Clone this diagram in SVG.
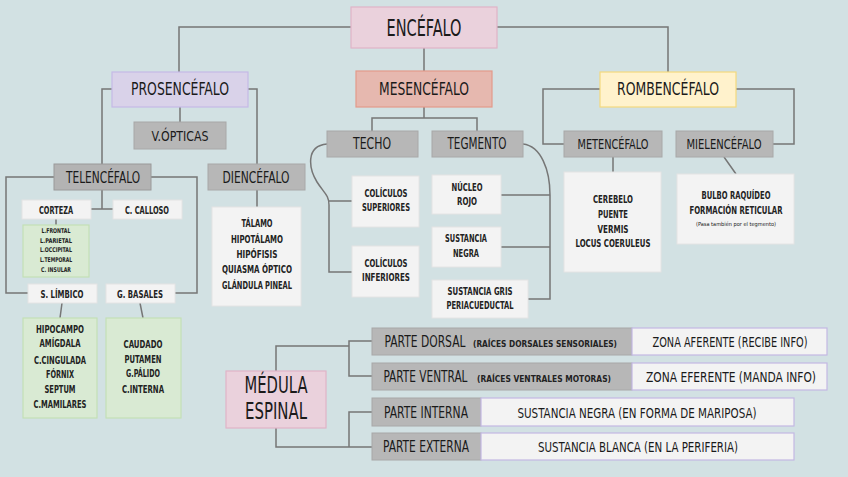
<svg xmlns="http://www.w3.org/2000/svg" width="848" height="477" viewBox="0 0 848 477">
<style>
text{font-family:"DejaVu Sans Condensed","DejaVu Sans","Liberation Sans Narrow",sans-serif;font-stretch:condensed;font-weight:bold;fill:#222;text-anchor:middle}
.c{fill:none;stroke:#767676;stroke-width:1.5}
.g{fill:#b7b7b7;stroke:#a8a8a8;stroke-width:1}
.w{fill:#f3f3f3;stroke:#e4e4e4;stroke-width:1}
.gr{fill:#d9ead3;stroke:#c4dfb6;stroke-width:1.2}
.z{fill:#f3f3f3;stroke:#c3b8e3;stroke-width:1.2}
.pk{fill:#ead1dc;stroke:#dfb3c7;stroke-width:1.2}
.n{font-weight:normal;fill:#1a1a1a}
</style>
<rect width="848" height="477" fill="#d2e1e3"/>
<g id="connectors">
<path class="c" d="M351,27H179V72M497,27H668V72M424,48V71M112,89H102V164M248,89H257V164M180,107V122M424,107V118M372,131V118H477V131"/>
<path class="c" d="M600,89H543V144H564M736,89H794V144H773M613,157V172M724,157L736,174"/>
<path class="c" d="M54,177H6V293H28M151,177H197V293H175M102,190V209M91,209H113M56,219V225M62,303L60,318M140,303L143,318M257,190V207"/>
<path class="c" d="M327,144C305,146 309,169 317,182C324,193 329,195 329,205V272H352M329,201H352"/>
<path class="c" d="M523,144C541,146 550,170 550,195V299H528M501,195H550M501,247H550"/>
<path class="c" d="M276,371V346H349M372,341H349V376H372M276,428V447H372M349,447V412H372"/>
</g>
<g id="encefalo"><rect class="pk" x="351" y="7" width="146" height="41"/><text class="n" x="424" y="36" font-size="23" textLength="75" lengthAdjust="spacingAndGlyphs">ENCÉFALO</text></g>
<g id="prosencefalo"><rect x="112" y="72" width="136" height="35" fill="#d9d2e9" stroke="#c5b9e6" stroke-width="1.2"/><text class="n" x="180" y="95" font-size="17" textLength="98" lengthAdjust="spacingAndGlyphs">PROSENCÉFALO</text></g>
<g id="mesencefalo"><rect x="356" y="71" width="136" height="36" fill="#e6b8af" stroke="#e39a8a" stroke-width="1.2"/><text class="n" x="424" y="95" font-size="17" textLength="90" lengthAdjust="spacingAndGlyphs">MESENCÉFALO</text></g>
<g id="rombencefalo"><rect x="600" y="72" width="136" height="35" fill="#fff2cc" stroke="#f3d97e" stroke-width="1.2"/><text class="n" x="668" y="95" font-size="17" textLength="102" lengthAdjust="spacingAndGlyphs">ROMBENCÉFALO</text></g>
<g id="vopticas"><rect class="g" x="134" y="122" width="92" height="27"/><text class="n" x="180" y="140.5" font-size="14" textLength="57" lengthAdjust="spacingAndGlyphs">V.ÓPTICAS</text></g>
<g id="techo"><rect class="g" x="327" y="131" width="91" height="26"/><text class="n" x="372" y="149" font-size="15" textLength="38" lengthAdjust="spacingAndGlyphs">TECHO</text></g>
<g id="tegmento"><rect class="g" x="432" y="131" width="91" height="26"/><text class="n" x="477" y="149" font-size="15" textLength="59" lengthAdjust="spacingAndGlyphs">TEGMENTO</text></g>
<g id="metencefalo"><rect class="g" x="564" y="131" width="98" height="26"/><text class="n" x="613" y="149" font-size="14" textLength="71" lengthAdjust="spacingAndGlyphs">METENCÉFALO</text></g>
<g id="mielencefalo"><rect class="g" x="676" y="131" width="97" height="26"/><text class="n" x="724" y="149" font-size="14" textLength="75" lengthAdjust="spacingAndGlyphs">MIELENCÉFALO</text></g>
<g id="telencefalo"><rect x="54" y="164" width="97" height="26" fill="#b3b3b3" stroke="#9a9a9a" stroke-width="1"/><text class="n" x="103" y="182.5" font-size="15" textLength="74" lengthAdjust="spacingAndGlyphs">TELENCÉFALO</text></g>
<g id="diencefalo"><rect class="g" x="208" y="164" width="97" height="26"/><text class="n" x="256" y="182.5" font-size="15" textLength="67" lengthAdjust="spacingAndGlyphs">DIENCÉFALO</text></g>
<g id="corteza"><rect class="w" x="22" y="200" width="69" height="19"/><text x="56" y="213.5" font-size="11" textLength="34" lengthAdjust="spacingAndGlyphs">CORTEZA</text></g>
<g id="ccalloso"><rect class="w" x="113" y="200" width="69" height="19"/><text x="147" y="213.5" font-size="11" textLength="44" lengthAdjust="spacingAndGlyphs">C. CALLOSO</text></g>
<g id="lobulos"><rect class="gr" x="23" y="225" width="66" height="52"/>
<text x="56" y="233.3" font-size="6.5" textLength="29" lengthAdjust="spacingAndGlyphs">L.FRONTAL</text>
<text x="56" y="243" font-size="6.5" textLength="32" lengthAdjust="spacingAndGlyphs">L.PARIETAL</text>
<text x="56" y="252.3" font-size="6.5" textLength="32" lengthAdjust="spacingAndGlyphs">L.OCCIPITAL</text>
<text x="56" y="262.3" font-size="6.5" textLength="32" lengthAdjust="spacingAndGlyphs">L.TEMPORAL</text>
<text x="56" y="272.3" font-size="6.5" textLength="30" lengthAdjust="spacingAndGlyphs">C. INSULAR</text></g>
<g id="slimbico"><rect class="w" x="28" y="284" width="69" height="19"/><text x="62" y="297.5" font-size="11" textLength="43" lengthAdjust="spacingAndGlyphs">S. LÍMBICO</text></g>
<g id="gbasales"><rect class="w" x="106" y="284" width="69" height="19"/><text x="140" y="297.5" font-size="11" textLength="46" lengthAdjust="spacingAndGlyphs">G. BASALES</text></g>
<g id="limbico-list"><rect class="gr" x="23" y="318" width="74" height="100"/>
<text x="60" y="333" font-size="11" textLength="48" lengthAdjust="spacingAndGlyphs">HIPOCAMPO</text>
<text x="60" y="347" font-size="11" textLength="41" lengthAdjust="spacingAndGlyphs">AMÍGDALA</text>
<text x="60" y="364" font-size="11" textLength="52" lengthAdjust="spacingAndGlyphs">C.CINGULADA</text>
<text x="60" y="378" font-size="11" textLength="28" lengthAdjust="spacingAndGlyphs">FÓRNIX</text>
<text x="60" y="393" font-size="11" textLength="31" lengthAdjust="spacingAndGlyphs">SEPTUM</text>
<text x="60" y="408" font-size="11" textLength="53" lengthAdjust="spacingAndGlyphs">C.MAMILARES</text></g>
<g id="basales-list"><rect class="gr" x="106" y="318" width="75" height="100"/>
<text x="143" y="348" font-size="11" textLength="39" lengthAdjust="spacingAndGlyphs">CAUDADO</text>
<text x="143" y="363" font-size="11" textLength="37" lengthAdjust="spacingAndGlyphs">PUTAMEN</text>
<text x="143" y="377" font-size="11" textLength="34" lengthAdjust="spacingAndGlyphs">G.PÁLIDO</text>
<text x="143" y="393" font-size="11" textLength="42" lengthAdjust="spacingAndGlyphs">C.INTERNA</text></g>
<g id="diencefalo-list"><rect class="w" x="212" y="207" width="89" height="99"/>
<text x="257" y="227" font-size="11" textLength="31" lengthAdjust="spacingAndGlyphs">TÁLAMO</text>
<text x="257" y="243" font-size="11" textLength="52" lengthAdjust="spacingAndGlyphs">HIPOTÁLAMO</text>
<text x="257" y="258" font-size="11" textLength="41" lengthAdjust="spacingAndGlyphs">HIPÓFISIS</text>
<text x="257" y="273" font-size="11" textLength="70" lengthAdjust="spacingAndGlyphs">QUIASMA ÓPTICO</text>
<text x="257" y="289" font-size="11" textLength="70" lengthAdjust="spacingAndGlyphs">GLÁNDULA PINEAL</text></g>
<g id="coliculos-sup"><rect class="w" x="352" y="176" width="67" height="51"/>
<text x="386" y="197" font-size="10.5" textLength="43" lengthAdjust="spacingAndGlyphs">COLÍCULOS</text>
<text x="386" y="211" font-size="10.5" textLength="48" lengthAdjust="spacingAndGlyphs">SUPERIORES</text></g>
<g id="coliculos-inf"><rect class="w" x="352" y="246" width="67" height="51"/>
<text x="386" y="267" font-size="10.5" textLength="43" lengthAdjust="spacingAndGlyphs">COLÍCULOS</text>
<text x="386" y="281" font-size="10.5" textLength="48" lengthAdjust="spacingAndGlyphs">INFERIORES</text></g>
<g id="nucleo-rojo"><rect class="w" x="432" y="175" width="69" height="39"/>
<text x="467" y="191" font-size="10.5" textLength="31" lengthAdjust="spacingAndGlyphs">NÚCLEO</text>
<text x="467" y="205" font-size="10.5" textLength="20" lengthAdjust="spacingAndGlyphs">ROJO</text></g>
<g id="sustancia-negra"><rect class="w" x="432" y="227" width="69" height="40"/>
<text x="466" y="242" font-size="10.5" textLength="42" lengthAdjust="spacingAndGlyphs">SUSTANCIA</text>
<text x="466" y="257" font-size="10.5" textLength="26" lengthAdjust="spacingAndGlyphs">NEGRA</text></g>
<g id="sustancia-gris"><rect class="w" x="432" y="280" width="96" height="38"/>
<text x="480" y="295" font-size="10.5" textLength="65" lengthAdjust="spacingAndGlyphs">SUSTANCIA GRIS</text>
<text x="480" y="309" font-size="10.5" textLength="67" lengthAdjust="spacingAndGlyphs">PERIACUEDUCTAL</text></g>
<g id="metencefalo-list"><rect class="w" x="564" y="172" width="97" height="100"/>
<text x="613" y="203" font-size="11" textLength="40" lengthAdjust="spacingAndGlyphs">CEREBELO</text>
<text x="613" y="218" font-size="11" textLength="30" lengthAdjust="spacingAndGlyphs">PUENTE</text>
<text x="613" y="233" font-size="11" textLength="31" lengthAdjust="spacingAndGlyphs">VERMIS</text>
<text x="613" y="247" font-size="11" textLength="75" lengthAdjust="spacingAndGlyphs">LOCUS COERULEUS</text></g>
<g id="mielencefalo-list"><rect class="w" x="677" y="174" width="117" height="70"/>
<text x="736" y="199" font-size="11" textLength="69" lengthAdjust="spacingAndGlyphs">BULBO RAQUÍDEO</text>
<text x="736" y="214" font-size="11" textLength="93" lengthAdjust="spacingAndGlyphs">FORMACIÓN RETICULAR</text>
<text class="n" x="736" y="226" font-size="5.5" textLength="80" lengthAdjust="spacingAndGlyphs">(Pasa también por el tegmento)</text></g>
<g id="medula"><rect class="pk" x="226" y="371" width="100" height="57"/>
<text class="n" x="276" y="393" font-size="23" textLength="63" lengthAdjust="spacingAndGlyphs">MÉDULA</text>
<text class="n" x="276" y="419" font-size="23" textLength="62" lengthAdjust="spacingAndGlyphs">ESPINAL</text></g>
<g id="parte-dorsal"><rect class="g" x="372" y="328" width="260" height="27"/>
<text class="n" x="425" y="347" font-size="15" textLength="81" lengthAdjust="spacingAndGlyphs">PARTE DORSAL</text>
<text x="545" y="347" font-size="9" textLength="144" lengthAdjust="spacingAndGlyphs">(RAÍCES DORSALES SENSORIALES)</text></g>
<g id="zona-aferente"><rect class="z" x="632" y="328" width="195" height="27"/><text class="n" x="730" y="347" font-size="13.5" textLength="155" lengthAdjust="spacingAndGlyphs">ZONA AFERENTE (RECIBE INFO)</text></g>
<g id="parte-ventral"><rect class="g" x="372" y="363" width="260" height="27"/>
<text class="n" x="425.5" y="382" font-size="15" textLength="84" lengthAdjust="spacingAndGlyphs">PARTE VENTRAL</text>
<text x="544" y="382" font-size="9" textLength="134" lengthAdjust="spacingAndGlyphs">(RAÍCES VENTRALES MOTORAS)</text></g>
<g id="zona-eferente"><rect class="z" x="632" y="363" width="195" height="27"/><text class="n" x="731" y="382" font-size="14" textLength="170" lengthAdjust="spacingAndGlyphs">ZONA EFERENTE (MANDA INFO)</text></g>
<g id="parte-interna"><rect class="g" x="372" y="398" width="109" height="28"/><text class="n" x="426" y="417.5" font-size="15" textLength="84" lengthAdjust="spacingAndGlyphs">PARTE INTERNA</text></g>
<g id="sustancia-negra-medula"><rect class="z" x="481" y="398" width="313" height="28"/><text class="n" x="637" y="417.5" font-size="14" textLength="239" lengthAdjust="spacingAndGlyphs">SUSTANCIA NEGRA (EN FORMA DE MARIPOSA)</text></g>
<g id="parte-externa"><rect class="g" x="372" y="433" width="109" height="27"/><text class="n" x="426" y="452" font-size="15" textLength="86" lengthAdjust="spacingAndGlyphs">PARTE EXTERNA</text></g>
<g id="sustancia-blanca"><rect class="z" x="481" y="433" width="313" height="27"/><text class="n" x="638" y="452" font-size="14" textLength="200" lengthAdjust="spacingAndGlyphs">SUSTANCIA BLANCA (EN LA PERIFERIA)</text></g>
</svg>
